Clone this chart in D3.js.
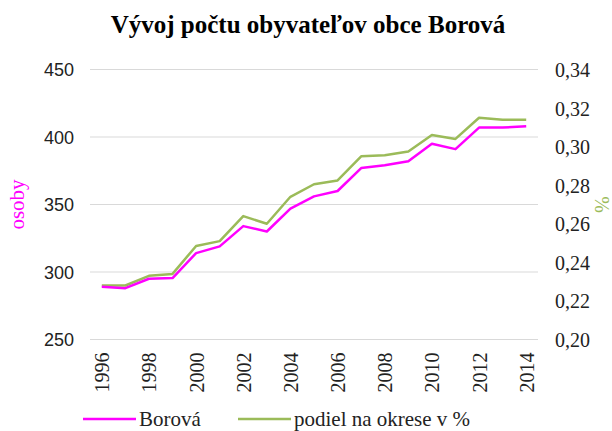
<!DOCTYPE html>
<html>
<head>
<meta charset="utf-8">
<script src="https://cdn.jsdelivr.net/npm/d3@7"></script>
<style>
  body { margin: 0; background: #fff; }
  svg { display: block; }
  .serif { font-family: "Liberation Serif", "Times New Roman", Times, Tinos, "DejaVu Serif", "Noto Serif", serif; }
  .sans { font-family: "Liberation Sans", Arial, "DejaVu Sans", sans-serif; }
</style>
</head>
<body>
<svg id="chart" width="612" height="431"></svg>
<script>
// data
const years = [1996, 1997, 1998, 1999, 2000, 2001, 2002, 2003, 2004, 2005,
               2006, 2007, 2008, 2009, 2010, 2011, 2012, 2013, 2014];
const borova = [289, 288, 295, 295.5, 314, 319, 334, 330, 347, 356,
                360, 377, 379, 382, 395, 391, 407, 407, 408];
const podiel = [0.228, 0.228, 0.233, 0.234, 0.2485, 0.251, 0.264, 0.260, 0.274, 0.2805,
                0.2825, 0.295, 0.2955, 0.2975, 0.306, 0.304, 0.315, 0.314, 0.314];
const leftTicks = [250, 300, 350, 400, 450];
const rightTicks = [0.20, 0.22, 0.24, 0.26, 0.28, 0.30, 0.32, 0.34];
const yearLabels = [1996, 1998, 2000, 2002, 2004, 2006, 2008, 2010, 2012, 2014];

const svg = d3.select("#chart");
const plotLeft = 90, plotRight = 538, plotTop = 69.5, plotBottom = 339.5;

const x = d3.scalePoint().domain(years).range([plotLeft, plotRight]).padding(0.5);
const yL = d3.scaleLinear().domain([250, 450]).range([plotBottom, plotTop]);
const yR = d3.scaleLinear().domain([0.20, 0.34]).range([plotBottom, plotTop]);

// title
svg.append("text")
  .attr("class", "serif")
  .attr("x", 308).attr("y", 32.5)
  .attr("text-anchor", "middle")
  .attr("font-weight", "bold").attr("font-size", 25)
  .text("Vývoj počtu obyvateľov obce Borová");

// gridlines
svg.append("g")
  .selectAll("line")
  .data(leftTicks)
  .enter()
  .append("line")
  .attr("x1", plotLeft).attr("x2", plotRight)
  .attr("y1", d => yL(d)).attr("y2", d => yL(d))
  .style("stroke", "#d9d9d9").attr("stroke-width", 1);

// left axis
const axL = svg.append("g")
  .attr("transform", `translate(${plotLeft - 16},0)`)
  .call(d3.axisLeft(yL).tickValues(leftTicks).tickSize(0).tickPadding(0));
axL.select(".domain").remove();
axL.attr("font-family", null).attr("class", "sans").attr("font-size", 18);
axL.selectAll("text").attr("fill", "#222").attr("dy", "0.35em");

// right axis
const axR = svg.append("g")
  .attr("transform", `translate(${plotRight + 17},0)`)
  .call(d3.axisRight(yR).tickValues(rightTicks).tickSize(0).tickPadding(0)
    .tickFormat(d => d3.format(".2f")(d).replace(".", ",")));
axR.select(".domain").remove();
axR.attr("font-family", null).attr("class", "serif").attr("font-size", 20);
axR.selectAll("text").attr("fill", "#222").attr("dy", "0.35em");

// x axis labels, rotated
const axX = svg.append("g")
  .attr("transform", `translate(0,${plotBottom})`)
  .call(d3.axisBottom(x).tickValues(yearLabels).tickSize(0));
axX.select(".domain").remove();
axX.attr("font-family", null).attr("class", "serif").attr("font-size", 20);
axX.selectAll("text")
  .attr("fill", "#222")
  .attr("text-anchor", "end")
  .attr("dy", null).attr("y", 0)
  .attr("transform", "translate(7,13) rotate(-90)");

// axis titles
svg.append("text")
  .attr("class", "serif")
  .attr("transform", `translate(24,${(plotTop + plotBottom) / 2}) rotate(-90)`)
  .attr("text-anchor", "middle")
  .attr("font-size", 21)
  .attr("fill", "#ff00ff")
  .text("osoby");

svg.append("text")
  .attr("class", "serif")
  .attr("transform", `translate(595,${(plotTop + plotBottom) / 2}) rotate(90)`)
  .attr("text-anchor", "middle")
  .attr("font-size", 20)
  .attr("fill", "#9bbb59")
  .text("%");

// lines
const lineL = d3.line().x((d, i) => x(years[i])).y(d => yL(d));
const lineR = d3.line().x((d, i) => x(years[i])).y(d => yR(d));

svg.append("path")
  .datum(podiel)
  .attr("d", lineR)
  .attr("fill", "none")
  .style("stroke", "#9bbb59").attr("stroke-width", 2.5)
  .attr("stroke-linejoin", "round");

svg.append("path")
  .datum(borova)
  .attr("d", lineL)
  .attr("fill", "none")
  .style("stroke", "#ff00ff").attr("stroke-width", 2.5)
  .attr("stroke-linejoin", "round");

// legend
const legend = [
  { name: "Borová", color: "#ff00ff", x: 83 },
  { name: "podiel na okrese v %", color: "#9bbb59", x: 238 }
];
const lg = svg.append("g")
  .selectAll("g")
  .data(legend)
  .enter()
  .append("g")
  .attr("transform", d => `translate(${d.x},419)`);
lg.append("line")
  .attr("x1", 0).attr("x2", 53)
  .style("stroke", d => d.color).attr("stroke-width", 2.5);
lg.append("text")
  .attr("class", "serif")
  .attr("x", 56).attr("y", 7)
  .attr("font-size", 21).attr("fill", "#222")
  .text(d => d.name);
</script>
</body>
</html>
